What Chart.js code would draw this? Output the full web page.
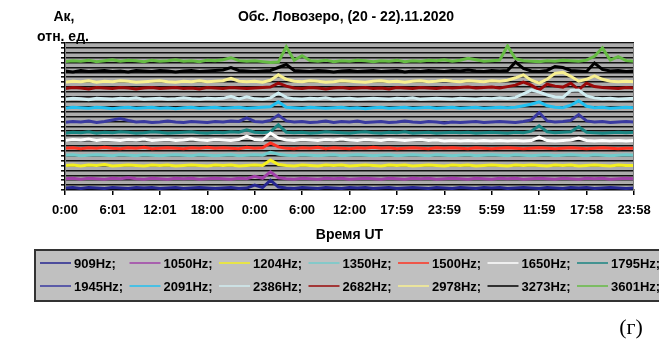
<!DOCTYPE html>
<html>
<head>
<meta charset="utf-8">
<script src="https://cdn.jsdelivr.net/npm/chart.js@4.4.0/dist/chart.umd.min.js"></script>
<style>
  html, body { margin: 0; padding: 0; background: #fff; }
  #wrap { width: 659px; height: 342px; position: relative; }
</style>
</head>
<body>
<div id="wrap"><canvas id="chart"></canvas></div>
<script>
// x tick labels, one every 6 hours (0..72 h)
const tickLabels = ['0:00', '6:01', '12:01', '18:00', '0:00', '6:00', '12:00', '17:59', '23:59', '5:59', '11:59', '17:58', '23:58']

const freqs = ['909Hz', '1050Hz', '1204Hz', '1350Hz', '1500Hz', '1650Hz', '1795Hz',
               '1945Hz', '2091Hz', '2386Hz', '2682Hz', '2978Hz', '3273Hz', '3601Hz']

const colors = ['#262690', '#a040a8', '#f4f020', '#70cccc', '#ff3322', '#ffffff', '#1a8582',
                '#3a3aa0', '#22c0f0', '#d0ecf0', '#9a0a0a', '#f8f090', '#000000', '#66bb44']

// hourly values, relative units (stacked offsets as on the original plot)
const s909 = [0.4,0.5,0.3,0.5,0.4,0.3,0.5,0.4,0.3,0.5,0.4,0.5,0.3,0.4,0.5,0.3,0.4,0.5,0.4,0.3,
  0.4,0.5,0.3,0.4,1.0,0.5,2.0,0.6,0.4,0.3, 0.5,0.4,0.3,0.5,0.4,0.3,0.5,0.4,0.5,0.3,
  0.4,0.5,0.3,0.4,0.5,0.4,0.3,0.5,0.4,0.3, 0.5,0.4,0.3,0.5,0.4,0.5,0.3,0.4,0.5,0.4,
  0.3,0.5,0.4,0.3,0.5,0.4,0.5,0.3,0.4,0.5,0.4,0.3,0.4]
const s1050 = [2.3,2.4,2.2,2.4,2.3,2.2,2.4,2.3,2.5,2.3,2.2,2.4,2.3,2.2,2.4,2.3,2.4,2.2,2.3,2.4,
  2.3,2.2,2.4,2.3,2.8,2.4,3.7,2.5,2.3,2.2, 2.4,2.3,2.2,2.4,2.3,2.4,2.2,2.3,2.4,2.3,
  2.2,2.4,2.3,2.2,2.4,2.3,2.4,2.2,2.3,2.4, 2.3,2.2,2.4,2.3,2.2,2.4,2.3,2.4,2.2,2.3,
  2.4,2.3,2.2,2.4,2.3,2.2,2.4,2.3,2.4,2.2,2.3,2.4,2.3]
const s1204 = [5.0,5.1,4.9,5.1,5.0,5.2,4.9,5.0,5.1,5.0,4.9,5.1,5.0,5.1,4.9,5.0,5.1,5.0,4.9,5.1,
  5.0,5.1,4.9,5.0,5.1,5.0,6.1,5.2,5.0,4.9, 5.1,5.0,4.9,5.1,5.0,5.1,4.9,5.0,5.1,5.0,
  4.9,5.1,5.0,5.1,4.9,5.0,5.1,5.0,4.9,5.1, 5.0,5.1,4.9,5.0,5.1,5.0,4.9,5.1,5.0,5.1,
  5.0,4.9,5.1,5.0,5.1,4.9,5.0,5.1,5.0,4.9,5.1,5.0,5.0]
const s1350 = [7.1,7.2,7.0,7.1,7.2,7.1,7.0,7.2,7.1,7.0,7.2,7.1,7.0,7.1,7.2,7.1,7.0,7.2,7.1,7.0,
  7.1,7.2,7.0,7.1,7.2,7.1,7.7,7.3,7.1,7.0, 7.2,7.1,7.0,7.1,7.2,7.0,7.1,7.2,7.1,7.0,
  7.1,7.2,7.0,7.1,7.2,7.1,7.0,7.2,7.1,7.0, 7.1,7.2,7.0,7.1,7.2,7.1,7.0,7.2,7.1,7.0,
  7.1,7.2,7.0,7.1,7.2,7.1,7.0,7.2,7.1,7.0,7.1,7.2,7.1]
const s1500 = [8.5,8.6,8.4,8.6,8.5,8.7,8.5,8.4,8.6,8.5,8.7,8.4,8.5,8.6,8.5,8.4,8.6,8.5,8.7,8.5,
  8.6,8.5,8.4,8.7,8.5,8.6,9.6,8.8,8.5,8.4, 8.6,8.5,8.7,8.4,8.6,8.5,8.4,8.6,8.5,8.7,
  8.5,8.6,8.4,8.5,8.6,8.5,8.4,8.6,8.5,8.6, 8.5,8.4,8.6,8.5,8.4,8.5,8.6,8.5,8.4,8.5,
  8.6,8.5,8.4,8.5,8.6,8.5,8.4,8.5,8.6,8.5,8.4,8.5,8.5]
const s1650 = [10.1,10.3,10.2,10.4,10.1,10.3,10.2,10.1,10.3,10.2,10.4,10.1,10.2,10.3,10.1,10.2,10.4,10.2,10.1,10.3,
  10.2,10.1,10.3,11.0,10.3,10.2,11.6,10.6,10.2,10.1, 10.3,10.2,10.1,10.3,10.2,10.4,10.2,10.1,10.3,10.2,
  10.1,10.3,10.2,10.1,10.2,10.3,10.1,10.2,10.0,10.1, 10.0,10.1,10.0,10.1,10.0,10.1,10.0,10.1,10.0,10.1,
  10.8,10.1,10.0,10.1,10.2,10.6,10.1,10.0,10.1,10.0,10.1,10.0,10.1]
const s1795 = [11.6,11.8,11.7,11.9,11.6,11.8,11.7,11.9,11.8,11.6,11.7,11.9,11.8,11.6,11.7,11.8,11.9,11.7,11.6,11.8,
  11.7,11.9,11.8,12.3,11.8,11.7,11.9,13.3,11.8,11.7, 11.8,11.6,11.7,11.9,11.8,11.7,11.6,11.8,11.9,11.7,
  11.6,11.8,11.7,11.9,11.6,11.7,11.8,11.6,11.7,11.8, 11.7,11.8,11.6,11.7,11.8,11.7,11.6,11.8,11.7,12.0,
  13.1,11.9,11.7,11.8,11.9,12.9,11.8,11.7,11.6,11.7,11.8,11.7,11.8]
const s1945 = [13.8,14.0,13.9,14.1,13.8,14.0,14.3,14.6,14.2,13.9,14.0,13.8,13.9,14.1,13.9,13.8,14.0,13.9,13.8,14.0,
  13.9,14.1,14.0,14.7,14.0,13.9,14.2,15.3,14.1,13.9, 14.0,13.8,13.9,14.1,13.8,14.0,13.9,14.1,13.8,13.9,
  14.0,13.8,13.9,14.1,13.9,13.8,14.0,13.9,13.7,13.9, 13.8,13.9,14.0,13.8,13.9,14.0,13.9,13.8,14.0,14.3,
  15.8,14.1,13.9,14.0,14.2,15.4,14.1,13.9,14.0,13.8,13.9,14.0,13.9]
const s2091 = [16.7,16.9,16.8,16.7,16.9,16.8,16.6,16.8,16.9,16.7,16.8,16.9,16.7,16.8,16.6,16.8,16.9,16.7,16.8,16.9,
  16.7,16.8,16.9,16.7,16.8,16.9,17.0,18.0,16.9,16.8, 16.7,16.9,16.8,16.7,16.8,16.9,16.7,16.8,16.6,16.8,
  16.9,16.7,16.8,16.9,16.7,16.8,16.9,16.7,16.8,16.9, 16.7,16.8,16.9,16.7,16.8,16.9,16.8,16.9,17.2,17.5,
  18.0,17.2,16.9,16.8,17.3,18.2,17.1,16.8,16.9,16.7,16.8,16.9,16.8]
const s2386 = [18.5,18.7,18.6,18.4,18.7,18.6,18.5,18.7,18.6,18.8,18.5,18.6,18.7,18.5,18.6,18.8,18.6,18.5,18.7,18.6,
  18.7,19.1,18.6,19.0,18.6,18.5,18.8,19.8,18.9,18.6, 18.5,18.7,18.6,18.8,18.5,18.6,18.7,18.5,18.6,18.7,
  18.6,18.5,18.7,18.6,18.8,18.5,18.6,18.7,18.6,18.5, 18.7,18.6,18.5,18.7,18.6,18.8,18.7,18.9,19.6,20.4,
  20.0,19.4,19.0,18.9,20.3,20.4,19.2,18.8,18.6,18.7,18.5,18.6,18.7]
const s2682 = [20.7,20.9,20.8,20.6,20.9,20.8,20.7,20.9,20.8,20.6,20.8,20.9,20.7,20.8,20.9,20.7,20.8,20.6,20.9,20.8,
  20.7,20.9,20.8,20.7,20.8,20.9,21.0,21.8,21.2,20.8, 20.7,20.9,20.8,20.6,20.8,20.9,20.7,20.8,20.9,20.7,
  20.8,20.6,20.9,20.8,20.7,20.9,20.8,20.7,20.9,20.8, 20.9,21.0,20.8,20.9,21.0,20.8,21.1,21.4,22.0,21.4,
  20.4,21.6,21.2,21.0,21.8,20.5,21.8,21.1,20.9,20.8,20.7,20.9,20.8]
const s2978 = [22.0,22.2,22.1,22.3,22.0,22.2,22.1,22.3,22.2,22.0,22.1,22.2,22.3,22.1,22.0,22.2,22.1,22.3,22.1,22.2,
  22.3,22.8,22.2,22.1,22.2,22.0,22.4,23.5,22.6,22.2, 22.1,22.3,22.2,22.0,22.1,22.3,22.2,22.1,22.0,22.2,
  22.3,22.1,22.2,22.0,22.2,22.3,22.1,22.2,22.4,22.2, 22.1,22.3,22.2,22.1,22.3,22.2,22.4,22.9,23.5,22.4,
  21.8,22.6,23.8,24.0,23.2,22.2,22.6,23.3,22.6,22.2,22.1,22.2,22.1]
const s3273 = [24.3,24.1,24.4,24.2,24.3,24.4,24.2,24.3,24.1,24.4,24.3,24.2,24.4,24.3,24.1,24.3,24.4,24.2,24.3,24.4,
  24.5,25.0,24.4,24.3,24.2,24.3,24.4,25.0,25.6,24.4, 24.3,24.2,24.4,24.3,24.1,24.3,24.4,24.2,24.3,24.4,
  24.2,24.3,24.4,24.1,24.3,24.2,24.4,24.3,24.2,24.4, 24.3,24.5,24.3,24.2,24.4,24.3,24.4,26.1,24.8,24.3,
  24.2,24.4,25.2,25.0,24.4,24.3,24.2,25.9,24.6,24.3,24.4,24.2,24.3]
const s3601 = [26.2,26.4,26.3,26.5,26.2,26.4,26.6,26.3,26.5,26.4,26.2,26.5,26.3,26.4,26.6,26.3,26.4,26.2,26.5,26.4,
  26.6,27.0,26.4,26.3,26.4,26.2,26.0,26.1,29.2,26.5, 27.4,26.4,26.3,26.5,26.2,26.4,26.3,26.5,26.4,26.2,
  26.4,26.3,26.5,26.2,26.4,26.3,26.5,26.4,26.6,26.3, 26.5,26.9,26.6,26.3,26.4,26.5,29.4,26.8,26.4,26.3,
  26.2,26.4,26.3,26.5,26.4,26.3,26.5,27.3,29.0,26.5,27.2,26.4,26.3]

const series = [s909, s1050, s1204, s1350, s1500, s1650, s1795,
                s1945, s2091, s2386, s2682, s2978, s3273, s3601]

const FONT = "'Liberation Sans', Arial, sans-serif"

const plotBg = {
    id: 'plotBg',
    beforeDraw(chart){
        const { ctx, chartArea: a } = chart
        ctx.save()
        ctx.fillStyle = '#acacac'
        ctx.fillRect(a.left, a.top, a.right - a.left, a.bottom - a.top)
        ctx.restore()
    },
    afterDraw(chart){
        const { ctx, chartArea: a } = chart
        ctx.save()
        ctx.strokeStyle = '#808080'
        ctx.lineWidth = 1
        ctx.strokeRect(a.left + 0.5, a.top + 0.5, a.right - a.left - 1, a.bottom - a.top)

        // texts around the plot
        ctx.fillStyle = '#000'
        ctx.textBaseline = 'middle'
        ctx.textAlign = 'center'
        ctx.font = 'bold 14px ' + FONT
        ctx.fillText('Обс. Ловозеро, (20 - 22).11.2020', 346, 17)
        ctx.fillText('Ак,', 64, 17)
        ctx.fillText('отн. ед.', 63, 37)
        ctx.font = "22px 'Liberation Serif', serif"
        ctx.fillText('(г)', 631, 328)

        // legend box, Excel-like fixed columns
        ctx.fillStyle = '#c0c0c0'
        ctx.fillRect(35, 250, 640, 51)
        ctx.strokeStyle = '#333'
        ctx.lineWidth = 2
        ctx.strokeRect(35, 250, 640, 51)
        ctx.textAlign = 'left'
        ctx.font = 'bold 13px ' + FONT
        chart.data.datasets.forEach((ds, i)=>{
            const col = i % 7
            const row = Math.floor(i / 7)
            const x = 40 + col * 89.5
            const y = 263 + row * 23
            ctx.strokeStyle = ds.borderColor
            ctx.lineWidth = 1.5
            ctx.beginPath()
            ctx.moveTo(x, y)
            ctx.lineTo(x + 31, y)
            ctx.stroke()
            ctx.fillStyle = '#000'
            ctx.fillText(ds.label + ';', x + 34, y + 1)
        })
        ctx.restore()
    }
}

const chart = new Chart(document.getElementById('chart'), {
    type: 'line',
    data: {
        datasets: series.map((vals, i)=>({
            label: freqs[i],
            data: vals.map((v, h)=>({ x: h, y: v })),
            borderColor: colors[i],
            backgroundColor: colors[i],
            borderWidth: 3,
            pointRadius: 0,
            tension: 0,
            fill: false,
        }))
    },
    options: {
        responsive: true,
        maintainAspectRatio: false,
        animation: false,
        layout: { padding: { left: 0, right: 25, top: 43, bottom: 94 } },
        plugins: {
            legend: { display: false },
            tooltip: { enabled: false },
        },
        scales: {
            x: {
                type: 'linear',
                min: 0,
                max: 72,
                afterFit: (s)=>{ s.height = 58 },
                border: { color: '#000', width: 1.5 },
                grid: { drawOnChartArea: false, drawTicks: true, tickLength: 5, color: '#000', lineWidth: 1.5 },
                ticks: {
                    stepSize: 6,
                    autoSkip: false,
                    maxRotation: 0,
                    padding: 8,
                    color: '#000',
                    font: { family: FONT, size: 13, weight: 'bold' },
                    callback: (v)=> tickLabels[v / 6],
                },
                title: {
                    display: true,
                    text: 'Время UT',
                    color: '#000',
                    font: { family: FONT, size: 14, weight: 'bold' },
                    padding: { top: 0, bottom: 4 },
                },
            },
            y: {
                min: 0,
                max: 30,
                afterFit: (s)=>{ s.width = 65 },
                border: { color: '#000', width: 1.5 },
                grid: { color: '#111', lineWidth: 1.6, tickLength: 4 },
                ticks: { display: false, stepSize: 1, maxTicksLimit: 31 },
            },
        },
    },
    plugins: [plotBg],
})
</script>
</body>
</html>
